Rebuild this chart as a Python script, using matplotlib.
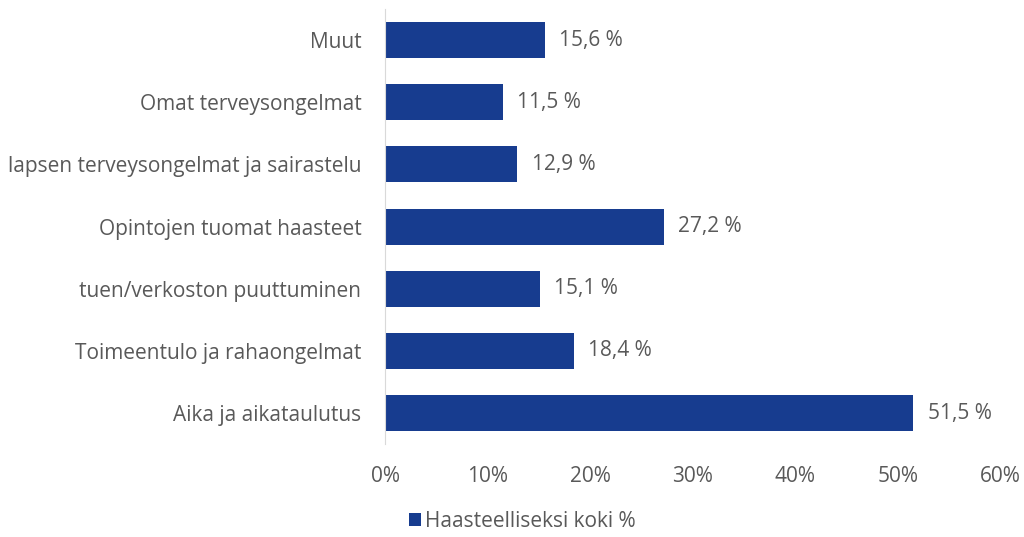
import matplotlib.pyplot as plt
import numpy as np

categories = ['Aika ja aikataulutus', 'Toimeentulo ja rahaongelmat', 'tuen/verkoston puuttuminen',
              'Opintojen tuomat haasteet', 'lapsen terveysongelmat ja sairastelu',
              'Omat terveysongelmat', 'Muut']
values = [51.5, 18.4, 15.1, 27.2, 12.9, 11.5, 15.6]
xticks = [0, 10, 20, 30, 40, 50, 60]

plt.rcParams['font.family'] = ['Open Sans', 'DejaVu Sans']
text_color = '#595959'
bar_color = '#173C8F'
fs = 15

fig = plt.figure(figsize=(10.24, 5.37), dpi=100)
ax = fig.add_axes([0.376, 0.173, 0.601, 0.810])

y = np.arange(len(categories))
ax.barh(y, values, height=0.58, color=bar_color, label='Haasteelliseksi koki %')
for yi, v in zip(y, values):
    ax.text(v + 1.4, yi, f'{v:.1f} %'.replace('.', ','), va='center', ha='left',
            fontsize=fs, color=text_color)

ax.set_xlim(0, 60)
ax.set_ylim(-0.5, len(categories) - 0.5)
ax.set_xticks(xticks)
ax.set_xticklabels([f'{t}%' for t in xticks], fontsize=fs, color=text_color)
ax.set_yticks(y)
ax.set_yticklabels(categories, fontsize=fs, color=text_color)
ax.tick_params(axis='both', length=0)
ax.tick_params(axis='x', pad=16)
ax.tick_params(axis='y', pad=17)
for s in ['top', 'right', 'bottom']:
    ax.spines[s].set_visible(False)
ax.spines['left'].set_color('#D9D9D9')

fig.legend(loc='lower center', bbox_to_anchor=(0.51, -0.025), frameon=False,
           fontsize=fs, labelcolor=text_color, handlelength=0.6, handleheight=0.6,
           handletextpad=0.2)

fig.savefig('out.png', dpi=100)
